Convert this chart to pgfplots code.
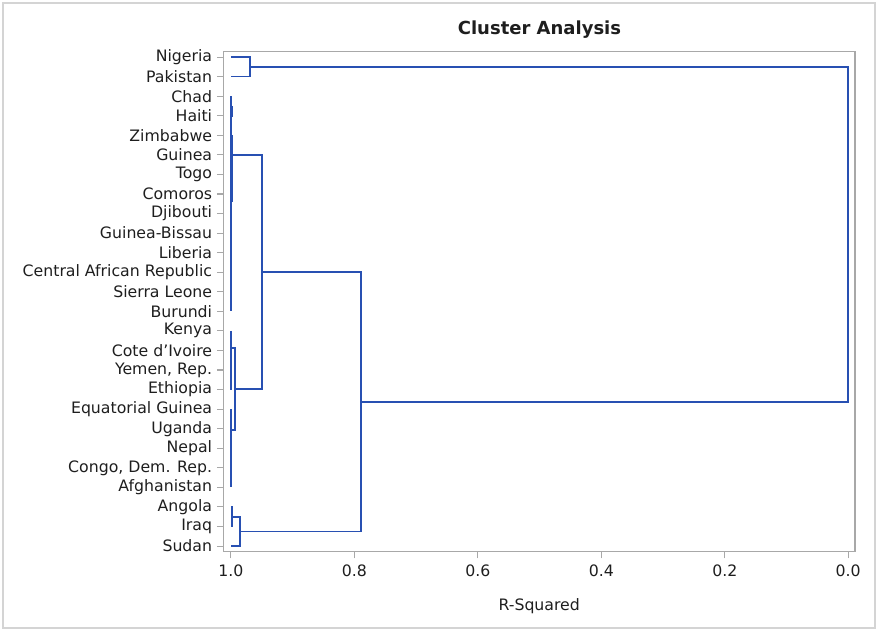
\documentclass[border=0pt]{standalone}
\usepackage{pgfplots}
\pgfplotsset{compat=1.18}
\usepackage{fontspec}
\setmainfont{DejaVu Sans}
\definecolor{dend}{RGB}{40,80,178}
\definecolor{framegray}{RGB}{168,168,168}
\definecolor{bordergray}{RGB}{212,212,212}
\definecolor{txt}{RGB}{30,30,30}
\tikzset{dendline/.style={draw=dend, line width=1.2pt, line join=miter, mark=none, solid}}
\begin{document}
\begin{tikzpicture}
\path[use as bounding box] (0,0) rectangle (657.75pt,-473.25pt);
\draw[bordergray, line width=0.8pt] (2.25pt,-2.25pt) rectangle (656.25pt,-471pt);
\node[font=\fontsize{13.5}{16}\selectfont\bfseries, text=txt] at (404.6pt,-22pt) {Cluster Analysis};
\begin{axis}[
  at={(167.6pt,-413.8pt)}, anchor=south west,
  scale only axis, width=473.6pt, height=375pt,
  x dir=reverse, y dir=reverse,
  xmin=-0.01085, xmax=1.01215,
  ymin=-0.271, ymax=25.29,
  axis line style={framegray, line width=0.9pt},
  tick align=outside, major tick length=5pt,
  xtick pos=bottom, ytick pos=left,
  tick style={framegray, line width=0.8pt},
  xtick={0,0.2,0.4,0.6,0.8,1},
  xticklabels={0.0,0.2,0.4,0.6,0.8,1.0},
  ytick={0,1,...,25},
  yticklabels={Nigeria,Pakistan,Chad,Haiti,Zimbabwe,Guinea,Togo,Comoros,Djibouti,Guinea-Bissau,Liberia,Central African Republic,Sierra Leone,Burundi,Kenya,Cote d'Ivoire,{Yemen, Rep.},Ethiopia,Equatorial Guinea,Uganda,Nepal,{Congo, Dem. Rep.},Afghanistan,Angola,Iraq,Sudan},
  ticklabel style={font=\fontsize{11.8}{14}\selectfont, text=txt},
  xticklabel style={yshift=-1.5pt},
  xlabel={R-Squared},
  xlabel style={font=\fontsize{11.8}{14}\selectfont, text=txt, yshift=-9pt},
]
% Nigeria-Pakistan
\addplot[dendline] coordinates {(1,0) (0.969,0) (0.969,1) (1,1)};
% root join
\addplot[dendline] coordinates {(0.969,0.5) (0,0.5) (0,17.62) (0.789,17.62)};
% join at 0.789
\addplot[dendline] coordinates {(0.950,10.985) (0.789,10.985) (0.789,24.25) (0.985,24.25)};
% join at 0.950
\addplot[dendline] coordinates {(0.9985,5) (0.950,5) (0.950,16.97) (0.9935,16.97)};
% lower middle cluster
\addplot[dendline] coordinates {(1,14.875) (0.9935,14.875) (0.9935,19.07) (1,19.07)};
\addplot[dendline] coordinates {(1,14) (1,17)};
\addplot[dendline] coordinates {(1,18) (1,22)};
% upper middle cluster
\addplot[dendline] coordinates {(1,2) (1,13)};
\addplot[dendline] coordinates {(0.9985,2.5) (0.9985,3.05)};
\addplot[dendline] coordinates {(0.9985,4) (0.9985,7.4)};
% Angola-Iraq-Sudan
\addplot[dendline] coordinates {(1,23) (0.9985,23) (0.9985,24) (1,24)};
\addplot[dendline] coordinates {(0.9985,23.5) (0.985,23.5) (0.985,25) (1,25)};
\end{axis}
\end{tikzpicture}
\end{document}
